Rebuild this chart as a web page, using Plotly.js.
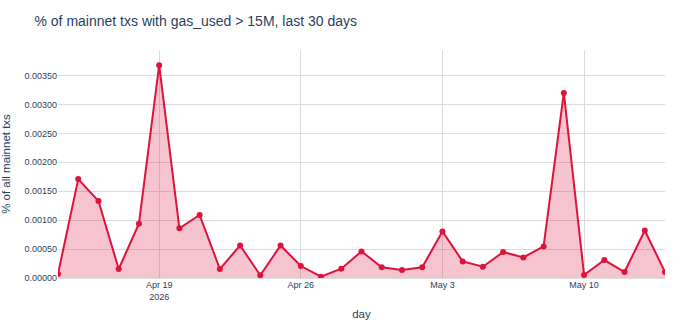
<!DOCTYPE html>
<html><head><meta charset="utf-8">
<script src="https://cdn.plot.ly/plotly-3.0.1.min.js"></script>
<style>html,body{margin:0;padding:0;background:#fff}</style>
</head><body>
<div id="chart" style="width:690px;height:326px"></div>
<script>
const days = ["2026-04-14","2026-04-15","2026-04-16","2026-04-17","2026-04-18","2026-04-19","2026-04-20","2026-04-21","2026-04-22","2026-04-23","2026-04-24","2026-04-25","2026-04-26","2026-04-27","2026-04-28","2026-04-29","2026-04-30","2026-05-01","2026-05-02","2026-05-03","2026-05-04","2026-05-05","2026-05-06","2026-05-07","2026-05-08","2026-05-09","2026-05-10","2026-05-11","2026-05-12","2026-05-13","2026-05-14"];
const pct = [0.00007,0.00171,0.00133,0.000155,0.00094,0.00368,0.00086,0.00109,0.000155,0.000563,0.000046,0.000563,0.000207,0.000023,0.00016,0.00046,0.000184,0.000138,0.000184,0.000805,0.000287,0.000195,0.000448,0.000356,0.000546,0.0032,0.000052,0.00031,0.000103,0.000822,0.000103];

const font = "Liberation Sans, Arial, sans-serif";
Plotly.newPlot('chart', [{
  x: days, y: pct, type: 'scatter', mode: 'lines+markers',
  fill: 'tozeroy', fillcolor: 'rgba(220,20,60,0.25)',
  line: {color: '#dc143c', width: 2},
  marker: {color: '#dc143c', size: 6}
}], {
  width: 690, height: 326,
  margin: {l: 58, r: 25, t: 50, b: 48},
  paper_bgcolor: '#fff', plot_bgcolor: '#fff',
  font: {family: font, color: '#2a3f5f', size: 9},
  title: {text: '% of mainnet txs with gas_used > 15M, last 30 days', x: 0.05, xanchor: 'left', y: 0.95, font: {size: 14, family: font, color: '#2a3f5f'}},
  xaxis: {title: {text: 'day', font: {size: 11.5}, standoff: 9}, gridcolor: '#dcdcdc', showline: false, zeroline: false, tickfont: {size: 9}},
  yaxis: {title: {text: '% of all mainnet txs', font: {size: 11.5}, standoff: 16}, gridcolor: '#dcdcdc', tickformat: '.5f', dtick: 0.0005, zeroline: true, zerolinecolor: '#dcdcdc', tickfont: {size: 9}},
  showlegend: false
}, {displayModeBar: false});
</script>
</body></html>
